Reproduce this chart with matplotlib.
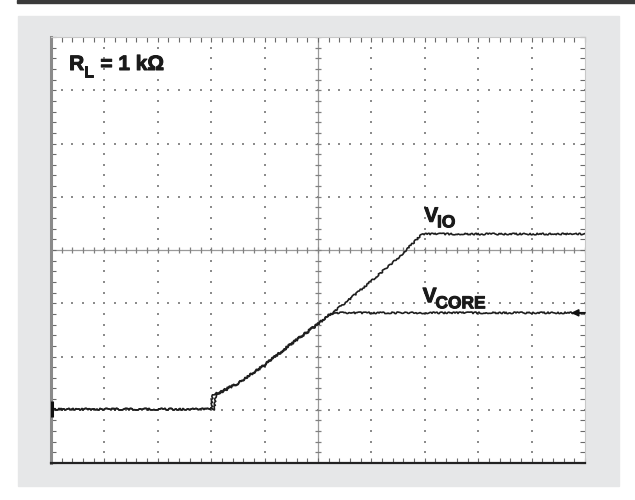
import numpy as np
import matplotlib
matplotlib.use('Agg')
import matplotlib.pyplot as plt
import matplotlib.patheffects as pe
from matplotlib.patches import Rectangle

plt.rcParams['font.family'] = ['Liberation Sans', 'DejaVu Sans']

# Scope traces, in screen divisions (10 x 8 graticule)
vio_t = [0.0, 3.00, 3.03, 3.12, 3.5, 4.0, 4.5, 5.0, 5.5, 6.0, 6.5, 6.95, 10.0]
vio_v = [1.01, 1.01, 1.28, 1.32, 1.50, 1.85, 2.25, 2.62, 3.00, 3.42, 3.85, 4.30, 4.30]

vcore_t = [0.0, 3.06, 3.09, 3.16, 3.5, 4.0, 4.5, 5.0, 5.2, 5.3, 10.0]
vcore_v = [1.01, 1.01, 1.30, 1.31, 1.49, 1.83, 2.23, 2.60, 2.78, 2.82, 2.82]

ground_level = 1.01
trigger_level = 2.82

W, H = 635, 500
fig = plt.figure(figsize=(W / 100, H / 100), dpi=100)
fig.patch.set_facecolor('white')

# dark rule along the top and grey panel behind the screen
fig.patches.append(Rectangle((17 / W, 1 - 2.5 / H), 1 - 17 / W, 2.5 / H,
                             transform=fig.transFigure, color='#3a3a3a', zorder=-10))
fig.patches.append(Rectangle((18 / W, 1 - 486 / H), (619 - 18) / W, (486 - 16) / H,
                             transform=fig.transFigure, color='#e6e7e8', zorder=-10))

ax = fig.add_axes([51 / W, 1 - 463 / H, 534 / W, 426 / H])
ax.set_zorder(1)
ax.set_facecolor('white')
ax.set_xlim(0, 10)
ax.set_ylim(0, 8)

# graticule: dotted division lines
dots = np.arange(0, 8.01, 0.2)
for gx in [1, 2, 3, 4, 6, 7, 8, 9]:
    ax.scatter(np.full_like(dots, gx), dots, s=2.2, marker='s', color='#8c8c8c',
               linewidths=0, zorder=1)
dots_x = np.arange(0, 10.01, 0.2)
for gy in [1, 2, 3, 5, 6, 7]:
    ax.scatter(dots_x, np.full_like(dots_x, gy), s=2.2, marker='s', color='#8c8c8c',
               linewidths=0, zorder=1)

# centre axes with minor ticks
ax.axhline(4, color='#9a9a9a', lw=0.9, zorder=1)
ax.axvline(5, color='#9a9a9a', lw=0.9, zorder=1)
ax.plot(dots_x, np.full_like(dots_x, 4), ls='none', marker='|', ms=5,
        mew=0.9, color='#808080', zorder=1)
ax.plot(np.full_like(dots, 5), dots, ls='none', marker='_', ms=5,
        mew=0.9, color='#808080', zorder=1)

# frame
for side in ['top', 'right']:
    ax.spines[side].set_color('#c8c8c8')
    ax.spines[side].set_linewidth(0.8)
ax.spines['left'].set_color('#8a8a8a')
ax.spines['left'].set_linewidth(2.2)
ax.spines['bottom'].set_color('#222222')
ax.spines['bottom'].set_linewidth(1.6)

ax.set_xticks(np.arange(0, 10.01, 1))
ax.set_xticks(np.arange(0, 10.01, 0.2), minor=True)
ax.set_yticks(np.arange(0, 8.01, 1))
ax.set_yticks(np.arange(0, 8.01, 0.2), minor=True)
ax.tick_params(which='both', direction='in', length=3.5, width=0.8,
               color='#6a6a6a', top=True, right=True,
               labelbottom=False, labelleft=False)

# traces
for t, v in [(vio_t, vio_v), (vcore_t, vcore_v)]:
    line, = ax.plot(t, v, color='#1e1e1e', lw=1.2, zorder=3)
    line.set_sketch_params(scale=0.8, length=3, randomness=10)

# ground marker on the left, trigger arrow on the right
ax.plot([0.02], [ground_level], marker='|', ms=11, mew=2.2, color='#111111',
        clip_on=False, zorder=4)
ax.annotate('', xy=(9.74, trigger_level), xytext=(10.0, trigger_level),
            arrowprops=dict(arrowstyle='-|>', color='#111111', lw=1.3,
                            mutation_scale=10, shrinkA=0, shrinkB=0),
            zorder=4)

# labels, thickened slightly with a stroke of the same colour
heavy = [pe.withStroke(linewidth=0.7, foreground='#1a1a1a')]
lab = dict(fontweight='bold', va='baseline', color='#1a1a1a', zorder=5,
           path_effects=heavy)

ax.text(0.34, 7.38, 'R', fontsize=15, **lab)
ax.annotate('L', xy=(0.34, 7.38), xytext=(10.5, -4.8), textcoords='offset points',
            fontsize=11.5, **lab)
ax.annotate('= 1 k\u03a9', xy=(0.34, 7.38), xytext=(22.5, 0), textcoords='offset points',
            fontsize=15, **lab)

ax.text(6.99, 4.53, 'V', fontsize=15, **lab)
ax.annotate('IO', xy=(6.99, 4.53), xytext=(9.2, -4.0), textcoords='offset points',
            fontsize=12.5, **lab)

ax.text(6.96, 3.02, 'V', fontsize=15, **lab)
ax.annotate('CORE', xy=(6.96, 3.02), xytext=(9.2, -4.4), textcoords='offset points',
            fontsize=12.5, **lab)

fig.savefig('out.png', dpi=100, facecolor=fig.get_facecolor())
